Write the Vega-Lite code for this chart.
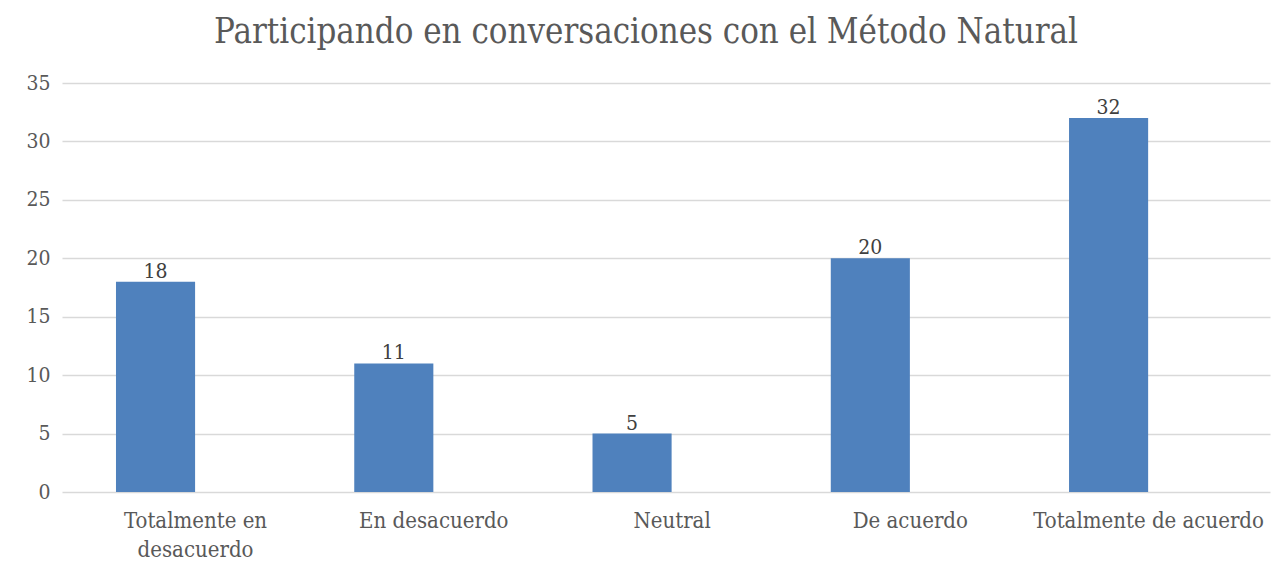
{
  "$schema": "https://vega.github.io/schema/vega-lite/v6.json",
  "width": 1208,
  "height": 409,
  "autosize": {"type": "none"},
  "padding": {"left": 62, "top": 83, "right": 11, "bottom": 85},
  "background": "white",
  "title": {
    "text": "Participando en conversaciones con el Método Natural",
    "font": "DejaVu Serif Condensed",
    "fontSize": 34.5,
    "fontWeight": "normal",
    "color": "#595959",
    "anchor": "middle",
    "frame": "group",
    "baseline": "alphabetic",
    "offset": -5,
    "dx": -20
  },
  "data": {
    "values": [
      {"categoria": "Totalmente en desacuerdo", "valor": 18},
      {"categoria": "En desacuerdo", "valor": 11},
      {"categoria": "Neutral", "valor": 5},
      {"categoria": "De acuerdo", "valor": 20},
      {"categoria": "Totalmente de acuerdo", "valor": 32}
    ]
  },
  "encoding": {
    "x": {
      "field": "categoria",
      "type": "nominal",
      "sort": null,
      "scale": {"paddingInner": 0.668, "paddingOuter": 0.369, "align": 0.307},
      "axis": {
        "title": null,
        "labelAngle": 0,
        "labelFont": "DejaVu Serif Condensed",
        "labelFontSize": 22,
        "labelColor": "#595959",
        "labelOffset": 40,
        "labelPadding": 18,
        "labelBaseline": "top",
        "labelLineHeight": 29,
        "labelLimit": 400,
        "ticks": false,
        "domain": false,
        "grid": false,
        "labelExpr": "datum.label == 'Totalmente en desacuerdo' ? ['Totalmente en', 'desacuerdo'] : datum.label"
      }
    },
    "y": {
      "field": "valor",
      "type": "quantitative",
      "scale": {"domain": [0, 35], "nice": false},
      "axis": {
        "title": null,
        "values": [0, 5, 10, 15, 20, 25, 30, 35],
        "labelFont": "DejaVu Serif Condensed",
        "labelFontSize": 21,
        "labelColor": "#595959",
        "labelPadding": 12,
        "ticks": false,
        "domain": false,
        "grid": true,
        "gridColor": "#D9D9D9",
        "gridWidth": 1.5
      }
    }
  },
  "layer": [
    {"mark": {"type": "bar", "color": "#4F81BD"}},
    {
      "mark": {
        "type": "text",
        "baseline": "alphabetic",
        "dy": -4,
        "font": "DejaVu Serif Condensed",
        "fontSize": 21,
        "color": "#404040"
      },
      "encoding": {"text": {"field": "valor", "type": "quantitative"}}
    }
  ],
  "config": {"view": {"stroke": null}}
}
